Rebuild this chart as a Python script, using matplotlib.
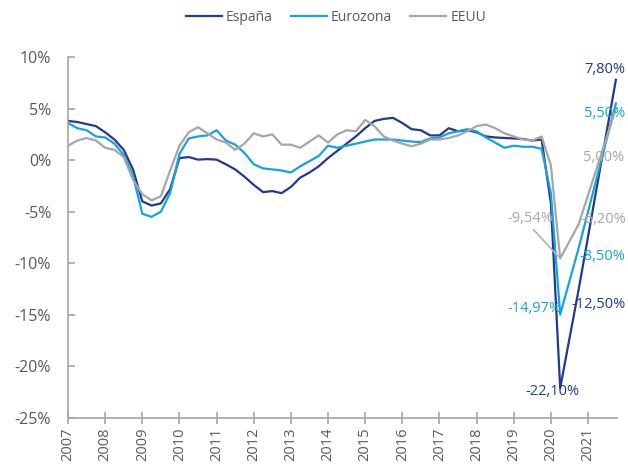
import matplotlib
matplotlib.use("Agg")
import matplotlib.pyplot as plt
from matplotlib.ticker import FuncFormatter

plt.rcParams['font.family'] = ['Open Sans', 'DejaVu Sans']

# quarterly positions 2007Q1 .. 2020Q2, then 2020 and 2021 forecasts
quarters = [2007 + i * 0.25 for i in range(54)]
years = quarters + [2020.75, 2021.75]

spain = [3.8, 3.7, 3.5, 3.3, 2.7, 2.0, 1.0, -0.9, -4.0, -4.4, -4.2, -2.8,
         0.2, 0.3, 0.05, 0.1, 0.05, -0.4, -0.9, -1.6, -2.4, -3.1, -3.0, -3.2,
         -2.6, -1.7, -1.2, -0.6, 0.2, 0.9, 1.6, 2.3, 3.1, 3.8, 4.0, 4.1,
         3.6, 3.0, 2.9, 2.4, 2.4, 3.1, 2.8, 2.9, 2.7, 2.3, 2.2, 2.15,
         2.1, 2.05, 1.9, 2.0, -4.2, -22.1, -12.5, 7.8]
eurozone = [3.6, 3.1, 2.9, 2.3, 2.2, 1.6, 0.5, -1.5, -5.2, -5.5, -5.0, -3.2,
            0.6, 2.1, 2.3, 2.4, 2.9, 1.9, 1.5, 0.7, -0.4, -0.8, -0.9, -1.0,
            -1.2, -0.6, -0.1, 0.4, 1.4, 1.2, 1.4, 1.6, 1.8, 2.0, 2.0, 2.0,
            1.9, 1.8, 1.75, 2.1, 2.2, 2.6, 2.8, 3.0, 2.8, 2.2, 1.7, 1.2,
            1.4, 1.3, 1.3, 1.1, -3.2, -14.97, -8.5, 5.5]
usa = [1.4, 1.9, 2.15, 1.9, 1.2, 1.0, 0.3, -1.9, -3.3, -3.9, -3.5, -1.0,
       1.4, 2.7, 3.2, 2.6, 2.0, 1.7, 1.0, 1.6, 2.6, 2.3, 2.5, 1.5,
       1.5, 1.2, 1.8, 2.4, 1.7, 2.5, 2.9, 2.8, 3.9, 3.3, 2.3, 1.9,
       1.6, 1.35, 1.6, 2.0, 2.0, 2.15, 2.4, 2.8, 3.3, 3.45, 3.1, 2.6,
       2.3, 2.0, 1.9, 2.3, -0.5, -9.54, -6.2, 5.0]

names = ['España', 'Eurozona', 'EEUU']
colors = ['#22398f', '#14a3dc', '#a6a6a6']
year_ticks = list(range(2007, 2022))
y_ticks = [10, 5, 0, -5, -10, -15, -20, -25]

fig = plt.figure(figsize=(6.28, 4.65), dpi=100)
ax = fig.add_axes([0.1083, 0.1011, 0.8742, 0.7763])

series = [spain, eurozone, usa]
for vals, name, col in zip(series, names, colors):
    ax.plot(years, vals, color=col, lw=1.6, label=name, solid_joinstyle='round')

ax.set_xlim(2007, 2021.78)
ax.set_ylim(-25, 10)
ax.set_xticks(year_ticks)
ax.set_xticklabels([str(y) for y in year_ticks], rotation=90)
ax.set_yticks(y_ticks)
ax.yaxis.set_major_formatter(FuncFormatter(lambda v, p: f"{int(v)}%"))

grey = '#a6a6a6'
for s in ['top', 'right']:
    ax.spines[s].set_visible(False)
for s in ['left', 'bottom']:
    ax.spines[s].set_color(grey)
    ax.spines[s].set_linewidth(1.2)
ax.tick_params(axis='x', direction='inout', length=9, color=grey, width=1.2,
               labelsize=10.5, labelcolor='#595959', pad=2)
ax.tick_params(axis='y', direction='in', length=5, color=grey, width=1.2,
               labelsize=11.5, labelcolor='#595959', pad=12)


def fmt(v):
    return f"{v:.2f}".replace('.', ',') + '%'


# labels: (series index, point index, offset px)
labels = [
    (0, -1, (-11, 10)),
    (1, -1, (-11, -10)),
    (2, -1, (-12, -49)),
    (2, -2, (24, 5)),
    (1, -2, (24, -9)),
    (0, -2, (20, -15)),
    (1, -3, (-26, 6)),
    (0, -3, (-8, -3)),
]
for si, pi, off in labels:
    ax.annotate(fmt(series[si][pi]), xy=(years[pi], series[si][pi]),
                xytext=off, textcoords='offset pixels', ha='center', va='center',
                color=colors[si], fontsize=10.5)

# US trough label with leader line
ax.annotate(fmt(usa[-3]), xy=(years[-3], usa[-3]), xytext=(-30, 40),
            textcoords='offset pixels', ha='center', va='center',
            color=grey, fontsize=10.5,
            arrowprops=dict(arrowstyle='-', color='#b0b0b0', lw=1.2,
                            shrinkA=1, shrinkB=2, relpos=(0.5, 0)))

ax.legend(loc='center', bbox_to_anchor=(0.488, 1.11), ncol=3, frameon=False,
          fontsize=10, handlelength=2.6, columnspacing=1.3, handletextpad=0.3,
          labelcolor='#595959')

fig.savefig('out.png', dpi=100)
